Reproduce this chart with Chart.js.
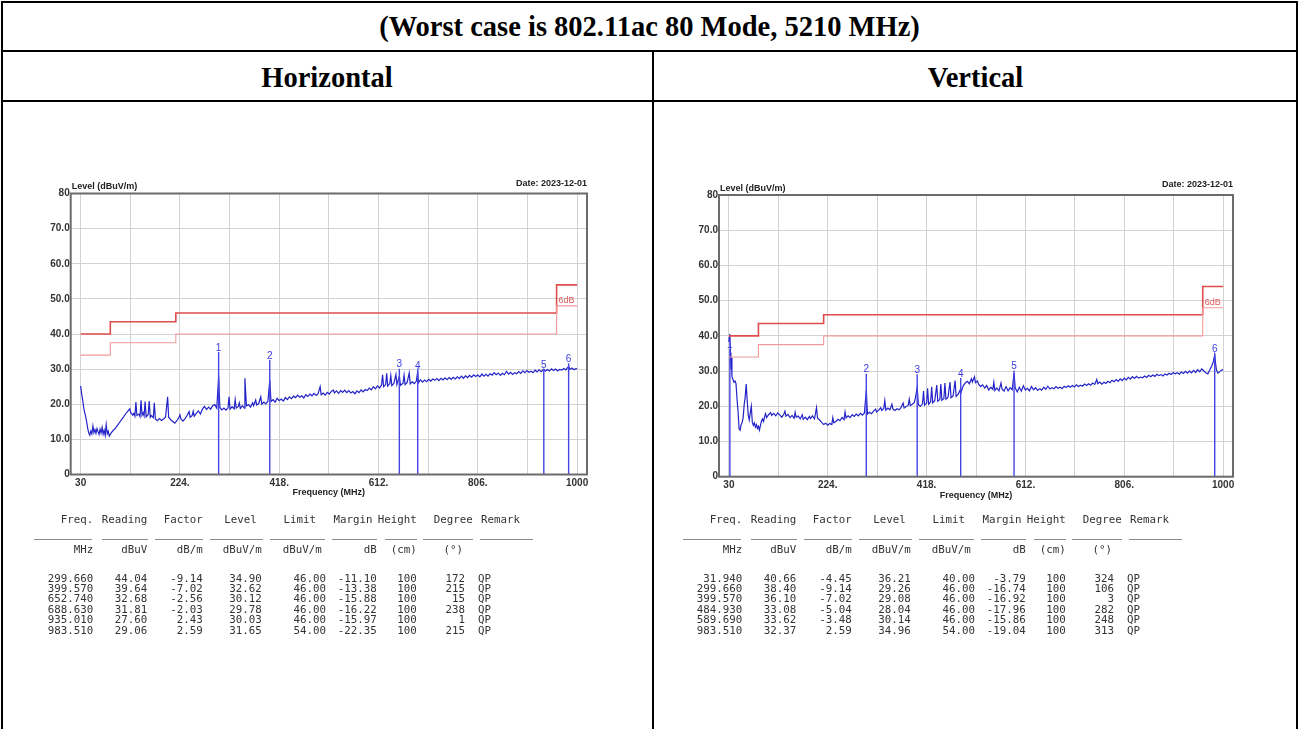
<!DOCTYPE html>
<html>
<head>
<meta charset="utf-8">
<script src="https://cdn.jsdelivr.net/npm/chart.js@4.4.0/dist/chart.umd.min.js"></script>
<style>
  html, body { margin: 0; padding: 0; background: #fff; width: 1300px; height: 729px; overflow: hidden; }
  .rule { position: absolute; background: #000; }
  .head { position: absolute; font-family: "Liberation Serif", "Times New Roman", serif; font-weight: bold;
          font-size: 28.5px; color: #000; text-align: center; line-height: 30px; white-space: nowrap; }
  canvas.plot { position: absolute; filter: blur(0.35px); }
  .tbl { position: absolute; left: 0; top: 0; width: 1300px; height: 729px; filter: blur(0.3px);
         font-family: "DejaVu Sans Mono", "Liberation Mono", monospace; font-size: 10.8px; color: #333; }
  .tbl span { position: absolute; white-space: pre; line-height: 12px; }
  .tbl i { position: absolute; height: 1.5px; background: #8c8c8c; }
</style>
</head>
<body>
<div id="page"></div>
<canvas id="chartH" class="plot" width="600" height="345" style="left:10px;top:165px;"></canvas>
<canvas id="chartV" class="plot" width="600" height="345" style="left:660px;top:165px;"></canvas>
<div id="tables" class="tbl"></div>
<script>
// ---- headings ----
const pageTitle = "(Worst case is 802.11ac 80 Mode, 5210 MHz)";
const panelTitles = ["Horizontal", "Vertical"];
const levelAxisTitle = "Level (dBuV/m)";
const freqAxisTitle = "Frequency (MHz)";
const dateText = "Date: 2023-12-01";

// ---- axes ----
const xMin = 10.6, xMax = 1019.4;
const gridFreqs = [30, 127, 224, 321, 418, 515, 612, 709, 806, 903, 1000];
const xTickLabels = ["30", "", "224.", "", "418.", "", "612.", "", "806.", "", "1000"];
const yTickValues = [0, 10, 20, 30, 40, 50, 60, 70, 80];
const yTickLabels = ["0", "10.0", "20.0", "30.0", "40.0", "50.0", "60.0", "70.0", "80"];

// ---- limit line (QP) and the 6 dB margin line ----
const limitEdges = [30, 88, 216, 960, 1000];
const limitLevels = [40, 43.5, 46, 54];
const marginLevels = [34, 37.5, 40, 48];
const marginLabel = "6dB";

// ---- measured spectrum, horizontal polarisation [MHz, dBuV/m] ----
const hTrace = [
  [30,25.2],[32,23.0],[34,21.2],[36,19.0],[38,17.6],[40,16.4],[42,14.8],[44,13.0],[46,11.8],[48,11.2],
  [50,12.4],[52,11.6],[54,13.8],[56,11.9],[58,12.8],[60,11.7],[62,13.1],[64,12.2],[66,11.4],[68,12.9],
  [70,11.8],[72,13.4],[74,11.5],[76,12.6],[78,11.1],[80,14.2],[82,11.6],[84,12.3],[86,10.9],[88,11.4],
  [90,11.9],[94,12.6],[98,13.2],[102,14.0],[106,14.8],[110,15.6],[114,16.4],[118,17.3],[122,18.0],[126,18.7],
  [128,17.6],[132,16.9],[134,17.4],[136,16.6],[138,20.6],[140,16.8],[144,17.2],[146,16.5],[148,21.1],[150,16.9],
  [152,17.6],[154,16.7],[156,20.8],[158,16.4],[162,17.1],[164,20.9],[166,16.3],[168,16.8],[172,16.2],[174,20.4],
  [176,15.8],[180,15.3],[184,15.9],[188,15.4],[192,15.8],[196,16.4],[200,22.1],[202,16.3],[206,15.6],[210,15.1],
  [214,14.6],[218,15.3],[222,16.2],[224,17.0],[226,15.8],[230,15.2],[234,15.9],[238,16.8],[242,17.9],[244,16.3],
  [248,16.8],[250,18.0],[252,16.6],[256,17.4],[260,18.1],[264,17.2],[268,18.6],[272,19.4],[276,18.5],[280,19.2],
  [284,18.6],[288,19.6],[292,19.9],[296,18.9],[299.7,27.9],[302,19.1],[306,18.4],[310,18.9],[314,18.3],[318,19.0],
  [320,22.1],[322,18.6],[326,19.3],[330,18.7],[332,21.3],[334,18.9],[338,19.4],[340,20.4],[342,18.8],[346,19.6],
  [350,18.9],[351,27.4],[354,19.5],[358,19.9],[362,19.2],[366,20.4],[368,19.6],[372,21.2],[374,19.8],[378,20.2],
  [382,22.1],[384,20.0],[388,20.6],[392,20.1],[396,20.9],[399.6,26.9],[402,20.8],[406,21.3],[410,20.6],[414,21.7],
  [418,21.0],[422,21.5],[426,20.9],[430,21.9],[434,21.3],[438,22.1],[442,21.6],[446,22.3],[450,21.9],[454,22.6],
  [458,22.0],[462,22.4],[466,21.8],[470,22.7],[474,22.2],[478,22.9],[482,22.4],[486,23.1],[490,22.5],[494,23.0],
  [498,25.0],[500,22.7],[504,23.2],[508,22.6],[512,23.4],[516,22.9],[520,23.7],[524,24.0],[526,23.2],[530,23.8],
  [534,23.1],[538,23.9],[542,23.4],[546,24.0],[550,23.3],[554,23.9],[558,23.2],[562,23.6],[566,23.0],[570,23.8],
  [574,23.3],[578,24.1],[582,23.5],[586,24.2],[590,23.9],[594,24.6],[598,24.1],[602,25.0],[606,24.4],[610,25.2],
  [614,24.6],[618,25.5],[620,28.4],[622,25.0],[626,25.6],[628,28.8],[630,25.2],[634,25.9],[636,28.2],[638,25.3],
  [642,25.9],[646,28.5],[648,25.6],[652.7,28.0],[655,25.4],[660,26.0],[662,28.3],[664,25.6],[668,26.2],[672,28.9],
  [674,25.8],[678,26.4],[682,25.9],[686,26.6],[688.6,29.3],[690,26.1],[694,27.0],[698,26.3],[702,26.9],[706,26.4],
  [710,27.1],[714,26.6],[718,27.2],[722,26.8],[726,27.3],[730,26.7],[734,27.4],[738,26.9],[742,27.5],[746,27.0],
  [750,27.6],[754,27.1],[758,27.7],[762,27.2],[766,27.8],[770,27.3],[774,28.0],[778,27.4],[782,28.1],[786,27.6],
  [790,28.2],[794,27.7],[798,28.4],[802,27.9],[806,28.3],[810,27.8],[814,28.6],[818,28.0],[822,28.5],[826,28.0],
  [830,28.7],[834,28.3],[838,29.0],[842,28.4],[846,28.9],[850,28.2],[854,28.8],[858,28.4],[862,29.4],[866,28.6],
  [870,29.1],[874,28.5],[878,29.0],[882,28.7],[886,29.3],[890,28.8],[894,29.5],[898,29.0],[902,29.6],[906,29.1],
  [910,29.4],[914,29.0],[918,29.7],[922,29.2],[926,29.8],[930,29.3],[935,30.0],[938,29.4],[942,29.9],[946,29.5],
  [950,30.1],[954,29.6],[958,30.0],[962,29.5],[966,29.9],[970,29.7],[974,30.2],[978,29.8],[983.5,30.8],[986,29.9],
  [990,30.3],[994,29.8],[998,30.2],[1000,30.0]
];

// ---- measured spectrum, vertical polarisation [MHz, dBuV/m] ----
const vTrace = [
  [30,38.6],[31.9,40.5],[33,35.2],[34,30.5],[35,33.8],[36,28.4],[38,27.6],[40,26.8],[42,27.2],[44,26.4],
  [46,22.0],[48,18.5],[50,13.6],[52,13.2],[54,14.8],[56,15.4],[58,16.8],[60,20.4],[62,22.6],[64,26.3],
  [66,21.4],[68,17.5],[70,16.1],[72,18.2],[74,20.0],[76,15.4],[78,14.6],[80,15.3],[82,14.1],[84,14.8],
  [86,13.7],[88,14.3],[90,13.2],[92,14.6],[94,15.8],[96,16.4],[98,15.7],[100,17.0],[102,17.9],[104,16.8],
  [108,17.6],[112,18.2],[114,17.4],[118,18.0],[122,17.3],[126,18.1],[130,17.5],[134,16.9],[138,17.8],[140,18.6],
  [142,17.2],[146,17.7],[150,16.8],[154,17.4],[158,16.6],[160,18.3],[162,16.9],[166,17.2],[170,16.4],[174,17.6],
  [176,16.3],[180,16.9],[184,16.2],[188,17.1],[190,16.5],[194,17.3],[198,16.4],[202,19.6],[204,16.6],[208,16.1],
  [212,15.4],[216,14.8],[220,15.2],[224,14.6],[228,15.1],[232,14.8],[234,16.8],[236,15.3],[240,15.7],[244,16.3],
  [248,15.9],[252,16.8],[256,16.2],[258,18.4],[260,16.7],[264,17.3],[268,16.8],[272,17.6],[276,17.1],[280,17.8],
  [284,17.3],[288,18.0],[292,17.5],[296,18.1],[299.7,24.6],[302,17.8],[306,18.3],[310,17.9],[314,18.6],[318,19.2],
  [320,18.4],[324,18.9],[328,19.6],[330,18.8],[334,19.4],[336,21.6],[338,18.9],[342,19.5],[346,19.0],[350,20.6],
  [352,19.2],[356,18.8],[360,19.3],[364,19.0],[368,19.7],[372,20.9],[374,19.5],[378,19.9],[382,20.3],[384,22.0],
  [386,20.2],[390,20.6],[394,21.1],[396,22.3],[399.6,25.4],[402,20.4],[406,20.0],[410,20.7],[412,24.3],[414,20.3],
  [418,20.9],[420,25.1],[422,20.6],[426,21.3],[428,25.5],[430,21.0],[434,21.6],[438,26.0],[440,21.4],[444,21.9],
  [446,26.3],[448,21.7],[452,22.2],[454,26.6],[456,22.0],[460,22.5],[464,26.9],[466,22.4],[470,22.9],[474,27.3],
  [476,22.8],[480,23.4],[484.9,24.9],[486,24.1],[490,25.9],[494,26.6],[498,27.1],[502,26.4],[506,27.8],[508,26.9],
  [512,28.4],[514,26.7],[518,27.2],[520,26.3],[524,25.6],[528,26.1],[532,25.2],[536,25.9],[540,24.6],[544,25.4],
  [548,24.8],[550,26.8],[552,24.5],[556,25.2],[560,24.4],[564,26.6],[566,24.9],[570,24.3],[574,25.6],[578,24.4],
  [582,25.3],[586,24.7],[589.7,29.4],[592,25.2],[596,24.1],[600,25.4],[604,24.3],[608,25.8],[612,24.6],[616,25.1],
  [620,24.4],[624,25.6],[628,24.7],[632,25.3],[636,24.5],[640,25.0],[644,24.6],[648,25.4],[652,24.8],[656,25.7],
  [660,24.9],[664,25.3],[668,25.0],[672,25.6],[676,25.1],[680,25.4],[684,25.0],[688,25.7],[692,25.3],[696,25.8],
  [700,25.4],[704,25.9],[708,25.5],[712,26.1],[716,25.6],[720,26.0],[724,25.7],[728,26.3],[732,25.9],[736,26.4],
  [740,26.0],[744,26.6],[748,26.2],[752,27.6],[754,26.4],[758,26.9],[762,26.3],[766,26.8],[770,26.5],[774,27.1],
  [778,26.7],[782,27.4],[786,27.0],[790,27.6],[794,27.1],[798,27.8],[802,27.3],[806,28.0],[810,27.5],[814,28.2],
  [818,27.7],[822,28.4],[826,27.9],[830,28.5],[834,28.0],[838,28.3],[842,28.1],[846,28.6],[850,28.2],[854,28.8],
  [858,28.4],[862,28.9],[866,28.5],[870,29.1],[874,28.7],[878,29.0],[882,28.6],[886,29.2],[890,28.9],[894,29.4],
  [898,29.0],[902,29.6],[906,29.2],[910,29.5],[914,29.1],[918,29.7],[922,29.3],[926,29.9],[930,29.4],[934,30.0],
  [938,29.5],[942,30.2],[946,29.6],[950,30.4],[954,29.8],[958,30.6],[962,30.1],[966,29.5],[970,29.2],[974,30.4],
  [978,31.6],[981,32.8],[983.5,34.6],[985,32.4],[987,30.2],[990,29.4],[994,29.9],[998,30.4],[1000,30.2]
];

// ---- QP results table, horizontal ----
const hFreq    = [299.660, 399.570, 652.740, 688.630, 935.010, 983.510];
const hReading = [44.04, 39.64, 32.68, 31.81, 27.60, 29.06];
const hFactor  = [-9.14, -7.02, -2.56, -2.03, 2.43, 2.59];
const hLevel   = [34.90, 32.62, 30.12, 29.78, 30.03, 31.65];
const hLimit   = [46.00, 46.00, 46.00, 46.00, 46.00, 54.00];
const hMargin  = [-11.10, -13.38, -15.88, -16.22, -15.97, -22.35];
const hHeight  = [100, 100, 100, 100, 100, 100];
const hDegree  = [172, 215, 15, 238, 1, 215];

// ---- QP results table, vertical ----
const vFreq    = [31.940, 299.660, 399.570, 484.930, 589.690, 983.510];
const vReading = [40.66, 38.40, 36.10, 33.08, 33.62, 32.37];
const vFactor  = [-4.45, -9.14, -7.02, -5.04, -3.48, 2.59];
const vLevel   = [36.21, 29.26, 29.08, 28.04, 30.14, 34.96];
const vLimit   = [40.00, 46.00, 46.00, 46.00, 46.00, 54.00];
const vMargin  = [-3.79, -16.74, -16.92, -17.96, -15.86, -19.04];
const vHeight  = [100, 100, 100, 100, 100, 100];
const vDegree  = [324, 106, 3, 282, 248, 313];

const remark = "QP";
const tableHeads = ["Freq.", "Reading", "Factor", "Level", "Limit", "Margin", "Height", "Degree", "Remark"];
const tableUnits = ["MHz", "dBuV", "dB/m", "dBuV/m", "dBuV/m", "dB", "(cm)", "(°)", ""];

// ---------------------------------------------------------------------------
// page frame
const page = document.getElementById('page');
function rule(l, t, w, h) {
  const d = document.createElement('div');
  d.className = 'rule';
  Object.assign(d.style, { left: l + 'px', top: t + 'px', width: w + 'px', height: h + 'px' });
  page.appendChild(d);
}
rule(1, 1, 1297, 2);     // top
rule(1, 1, 2, 728);      // left
rule(1296, 1, 2, 728);   // right
rule(1, 50, 1297, 2);    // under the title
rule(1, 100, 1297, 2);   // under the panel names
rule(652, 50, 2, 679);   // centre divider

function head(text, l, w, cy) {
  const d = document.createElement('div');
  d.className = 'head';
  d.textContent = text;
  Object.assign(d.style, { left: l + 'px', width: w + 'px', top: (cy - 15) + 'px' });
  page.appendChild(d);
}
head(pageTitle, 1, 1297, 27);
head(panelTitles[0], 1, 652, 78);
head(panelTitles[1], 653, 645, 78);

// ---------------------------------------------------------------------------
// charts
const tickFont = { family: '"Liberation Sans", Arial, sans-serif', size: 10, weight: 'bold' };
const GRID = '#d2d2d2';

function stepPoints(edges, levels) {
  const pts = [];
  levels.forEach((v, i) => { pts.push({ x: edges[i], y: v }); pts.push({ x: edges[i + 1], y: v }); });
  return pts;
}
function markerPoints(freqs, levels) {
  const pts = [];
  freqs.forEach((f, i) => { pts.push({ x: f, y: 0 }, { x: f, y: levels[i] }, { x: f, y: null }); });
  return pts;
}

const decorPlugin = {
  id: 'decor',
  afterDatasetsDraw(chart, args, opts) {
    const { ctx, chartArea: a, scales: { x, y } } = chart;
    ctx.save();
    // plot frame
    ctx.strokeStyle = '#6b6b6b';
    ctx.lineWidth = 2;
    ctx.strokeRect(a.left, a.top, a.right - a.left, a.bottom - a.top);
    // marker numbers
    ctx.fillStyle = '#3b3be0';
    ctx.font = '10px "Liberation Sans", Arial, sans-serif';
    ctx.textAlign = 'center';
    ctx.textBaseline = 'bottom';
    opts.markFreq.forEach((f, i) => {
      ctx.fillText(String(i + 1), x.getPixelForValue(f), y.getPixelForValue(opts.markLevel[i]) + 1);
    });
    // margin label
    ctx.fillStyle = '#e05a5a';
    ctx.font = '9px "Liberation Sans", Arial, sans-serif';
    ctx.textAlign = 'left';
    ctx.textBaseline = 'middle';
    ctx.fillText(marginLabel, x.getPixelForValue(limitEdges[3]) + 2, y.getPixelForValue(49.6));
    // titles
    ctx.fillStyle = '#222';
    ctx.font = 'bold 9px "Liberation Sans", Arial, sans-serif';
    ctx.textAlign = 'left';
    ctx.fillText(levelAxisTitle, a.left + 1, a.top - 6.5);
    ctx.textAlign = 'right';
    ctx.fillText(dateText, a.right, a.top - 10);
    ctx.textAlign = 'center';
    ctx.fillText(freqAxisTitle, (a.left + a.right) / 2, a.bottom + 18.5);
    ctx.restore();
  }
};

function makeChart(id, canvasBox, plotBox, trace, markFreq, markLevel) {
  const Y_W = 30, X_H = 22;
  const padding = {
    left: plotBox.l - canvasBox.l - Y_W,
    top: plotBox.t - canvasBox.t,
    right: canvasBox.l + canvasBox.w - plotBox.r,
    bottom: canvasBox.t + canvasBox.h - plotBox.b - X_H
  };
  return new Chart(document.getElementById(id), {
    type: 'line',
    data: {
      datasets: [
        { data: stepPoints(limitEdges, marginLevels), borderColor: '#f29a9a', borderWidth: 1.1 },
        { data: stepPoints(limitEdges, limitLevels), borderColor: '#e04c4c', borderWidth: 1.6 },
        { data: markerPoints(markFreq, markLevel), borderColor: '#4444e4', borderWidth: 1.4, spanGaps: false },
        { data: trace.map(p => ({ x: p[0], y: p[1] })), borderColor: '#2323c8', borderWidth: 1.2 }
      ]
    },
    options: {
      responsive: false,
      animation: false,
      devicePixelRatio: 1,
      layout: { padding },
      elements: { point: { radius: 0 }, line: { tension: 0 } },
      plugins: {
        legend: { display: false },
        tooltip: { enabled: false },
        decor: { markFreq, markLevel }
      },
      scales: {
        x: {
          type: 'linear', min: xMin, max: xMax,
          afterBuildTicks: s => { s.ticks = gridFreqs.map(v => ({ value: v })); },
          afterFit: s => { s.height = X_H; s.paddingLeft = 0; s.paddingRight = 0; },
          ticks: { autoSkip: false, maxRotation: 0, padding: 3, font: tickFont, color: '#333',
                   callback: (v, i) => xTickLabels[i] },
          grid: { color: GRID, lineWidth: 1, drawTicks: false },
          border: { display: false }
        },
        y: {
          type: 'linear', min: 0, max: 80,
          afterBuildTicks: s => { s.ticks = yTickValues.map(v => ({ value: v })); },
          afterFit: s => { s.width = Y_W; s.paddingTop = 0; s.paddingBottom = 0; },
          ticks: { padding: 1, font: tickFont, color: '#333', callback: (v, i) => yTickLabels[i] },
          grid: { color: GRID, lineWidth: 1, drawTicks: false },
          border: { display: false }
        }
      }
    },
    plugins: [decorPlugin]
  });
}

makeChart('chartH', { l: 10, t: 165, w: 600, h: 345 }, { l: 70.7, t: 193.5, r: 587, b: 474.5 },
          hTrace, hFreq, hLevel);
makeChart('chartV', { l: 660, t: 165, w: 600, h: 345 }, { l: 719, t: 195, r: 1233, b: 476.7 },
          vTrace, vFreq, vLevel);

// ---------------------------------------------------------------------------
// result tables (monospace report)
const tables = document.getElementById('tables');
const headRight = [93.3, 147.3, 202.7, 256.7, 316, 372.5, 416.7, 472.7, 520];
const unitRight = [93.3, 147.3, 202.7, 261.7, 321.7, 376.7, 416.7, 463, 0];
const dataRight = [93.3, 147.3, 202.7, 261.7, 326, 376.7, 416.7, 465];
const remarkLeft = 478;
const ruleSpans = [[34, 91.7], [101.7, 148.3], [155, 203], [210, 263], [270, 325], [331.7, 376.7],
                   [385, 416.7], [423, 473], [480, 533]];

function cell(text, right, cy, dx, alignLeft) {
  const s = document.createElement('span');
  s.textContent = text;
  s.style.top = (cy - 6) + 'px';
  if (alignLeft) s.style.left = (right + dx) + 'px';
  else s.style.right = (1300 - right - dx) + 'px';
  tables.appendChild(s);
}

function buildTable(dx, cols) {
  tableHeads.forEach((t, i) => cell(t, headRight[i], 519.5, dx));
  ruleSpans.forEach(([a, b]) => {
    const r = document.createElement('i');
    Object.assign(r.style, { left: (a + dx) + 'px', width: (b - a) + 'px', top: '538.5px' });
    tables.appendChild(r);
  });
  tableUnits.forEach((t, i) => { if (t) cell(t, unitRight[i], 550, dx); });
  const fmt = [3, 2, 2, 2, 2, 2, 0, 0];
  cols[0].forEach((_, r) => {
    const cy = 578.5 + r * 10.4;
    cols.forEach((col, c) => cell(col[r].toFixed(fmt[c]), dataRight[c], cy, dx));
    cell(remark, remarkLeft, cy, dx, true);
  });
}
buildTable(0, [hFreq, hReading, hFactor, hLevel, hLimit, hMargin, hHeight, hDegree]);
buildTable(649, [vFreq, vReading, vFactor, vLevel, vLimit, vMargin, vHeight, vDegree]);
</script>
</body>
</html>
